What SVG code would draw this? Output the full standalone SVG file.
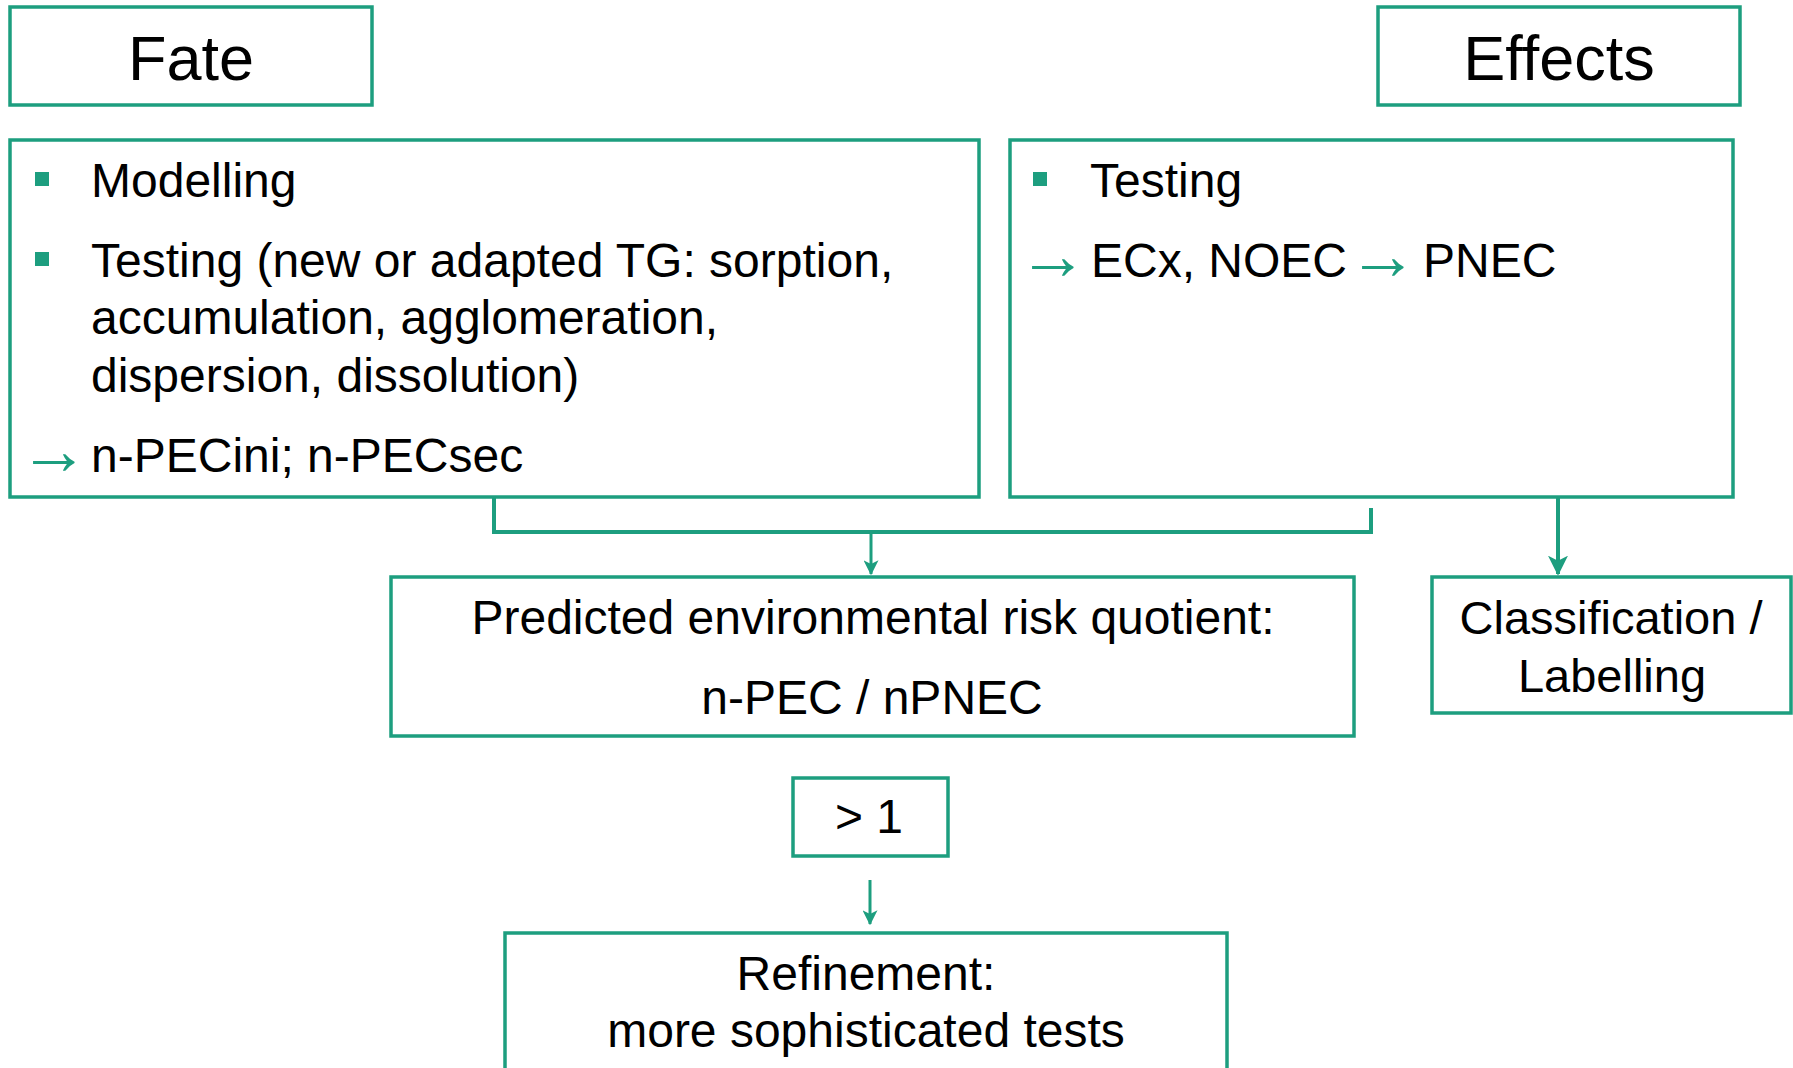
<svg xmlns="http://www.w3.org/2000/svg" width="1793" height="1068" viewBox="0 0 1793 1068">
  <style>
    .box { fill: #ffffff; stroke: #1d9e7f; stroke-width: 3.5; }
    .t { font-family: "Liberation Sans", Arial, sans-serif; fill: #000000; font-size: 48px; }
    .title { font-size: 63px; }
    .mid { text-anchor: middle; }
    .ar { fill: #1d9e7f; font-family: "Liberation Sans", Arial, sans-serif; font-size: 70px; }
    .bullet { fill: #1d9e7f; }
    .conn { fill: none; stroke: #1d9e7f; stroke-width: 4; }
    .link { fill: none; stroke: #1d9e7f; stroke-width: 3; }
    .link.heavy { stroke-width: 4; }
  </style>
  <defs>
    <marker id="head" viewBox="0 0 12 12" refX="11" refY="6" markerWidth="5" markerHeight="5" orient="auto" markerUnits="strokeWidth">
      <path d="M0,0 L12,6 L0,12 L3,6 Z" fill="#1d9e7f"/>
    </marker>
  </defs>

  <rect width="1793" height="1068" fill="#ffffff"/>

  <g id="connectors">
    <path class="conn" d="M494,497 V532 H1371 V508"/>
    <path class="link" d="M871,532 V574" marker-end="url(#head)"/>
    <path class="link heavy" d="M1558,498 V574" marker-end="url(#head)"/>
    <path class="link" d="M870,880 V924" marker-end="url(#head)"/>
  </g>

  <g id="fate">
    <rect class="box" x="10" y="7" width="362" height="98"/>
    <text class="t title mid" x="191" y="80">Fate</text>
  </g>

  <g id="effects">
    <rect class="box" x="1378" y="7" width="362" height="98"/>
    <text class="t title mid" x="1559" y="80">Effects</text>
  </g>

  <g id="fate-methods">
    <rect class="box" x="10" y="140" width="969" height="357"/>
    <rect class="bullet" x="35" y="172" width="14" height="14"/>
    <text class="t" x="91" y="197">Modelling</text>
    <rect class="bullet" x="35" y="252" width="14" height="14"/>
    <text class="t" x="91" y="277">Testing (new or adapted TG: sorption,</text>
    <text class="t" x="91" y="334">accumulation, agglomeration,</text>
    <text class="t" x="91" y="392">dispersion, dissolution)</text>
    <text class="t" y="472"><tspan class="ar" x="19" y="474">→</tspan><tspan x="91" y="472">n-PECini; n-PECsec</tspan></text>
  </g>

  <g id="effects-methods">
    <rect class="box" x="1010" y="140" width="723" height="357"/>
    <rect class="bullet" x="1033" y="172" width="14" height="14"/>
    <text class="t" x="1090" y="197">Testing</text>
    <text class="t" y="277"><tspan class="ar" x="1018" y="279">→</tspan><tspan x="1091" y="277">ECx, NOEC</tspan><tspan class="ar" x="1348" y="279">→</tspan><tspan x="1423" y="277">PNEC</tspan></text>
  </g>

  <g id="risk-quotient">
    <rect class="box" x="391" y="577" width="963" height="159"/>
    <text class="t mid" x="873" y="634">Predicted environmental risk quotient:</text>
    <text class="t mid" x="872" y="714">n-PEC / nPNEC</text>
  </g>

  <g id="classification">
    <rect class="box" x="1432" y="577" width="359" height="136"/>
    <text class="t mid" x="1611" y="634" style="font-size:47px">Classification /</text>
    <text class="t mid" x="1612" y="692" style="font-size:47px">Labelling</text>
  </g>

  <g id="threshold">
    <rect class="box" x="793" y="778" width="155" height="78"/>
    <text class="t mid" x="869" y="833">&gt; 1</text>
  </g>

  <g id="refinement">
    <rect class="box" x="505" y="933" width="722" height="150"/>
    <text class="t mid" x="866" y="990">Refinement:</text>
    <text class="t mid" x="866" y="1047">more sophisticated tests</text>
  </g>
</svg>
